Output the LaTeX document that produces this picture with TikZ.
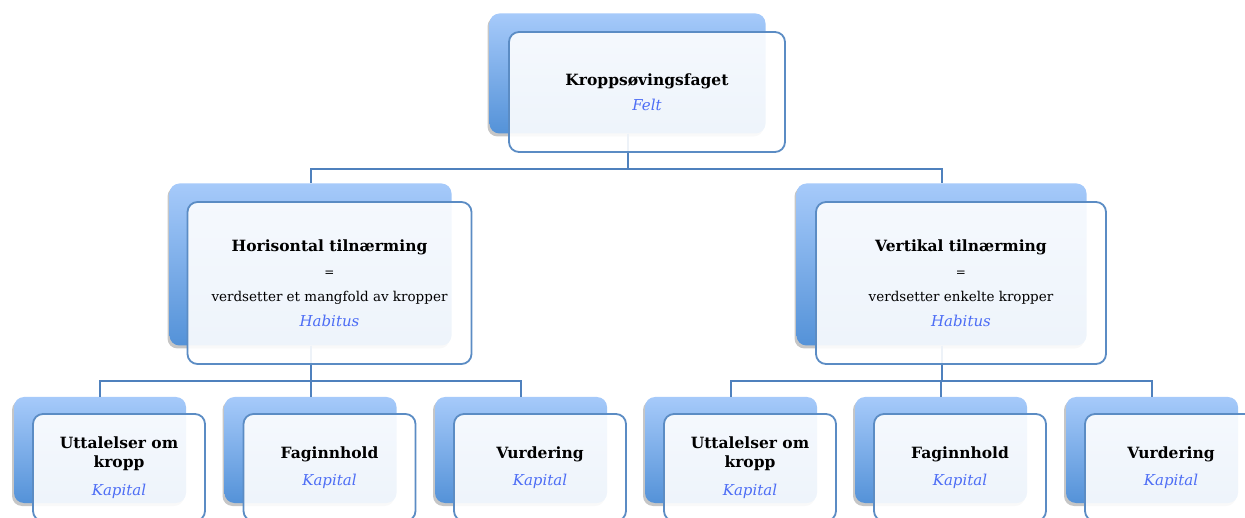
\documentclass[tikz,border=0pt]{standalone}
\usepackage{fontspec}
\setmainfont{DejaVu Serif}
\usetikzlibrary{shadows, positioning}
\definecolor{bluetop}{HTML}{A6CAFA}
\definecolor{bluebot}{HTML}{5492D8}
\definecolor{edge}{HTML}{5B8CC4}
\definecolor{link}{HTML}{4F81BD}
\definecolor{capblue}{HTML}{4D6DF5}
\newcommand{\ttlfont}{\fontsize{15.5}{25}\selectfont\bfseries}
\newcommand{\capt}[1]{{\fontsize{15}{25}\selectfont\itshape\color{capblue}#1}}

\begin{document}
\begin{tikzpicture}[x=1pt, y=-1pt,
        bak/.style={rectangle, rounded corners=10pt, draw=none,
                    top color=bluetop, bottom color=bluebot,
                    drop shadow={shadow xshift=-2pt, shadow yshift=-3pt, opacity=0.45}},
        frt/.style={rectangle, rounded corners=10pt, draw=edge, line width=1.8pt,
                    fill=white, fill opacity=0.9, text opacity=1,
                    align=center, font=\fontsize{15}{25}\selectfont},
        topsize/.style={minimum width=276pt, minimum height=120pt},
        midsize/.style={minimum height=162pt},
        botsize/.style={minimum width=172pt, minimum height=107pt},
        link/.style={draw=link, line width=2pt},
      ]
        \useasboundingbox (0,0) rectangle (1245,518);

        % back boxes
        \node[bak, topsize] (feltbak) at (627.5,73.5) {};
        \node[bak, midsize, minimum width=282pt] (horbak)  at (310.5,264.5) {};
        \node[bak, midsize, minimum width=290pt] (vertbak) at (941.5,264.5) {};
        \foreach \cx/\nm in {100/ua, 310.5/fa, 521/va, 731/ub, 941/fb, 1152/vb}
          \node[bak, botsize, minimum height=106pt] (\nm bak) at (\cx,450) {};

        % connectors
        \draw[link] (feltbak.south) -- ++(0,35) -| (horbak.north);
        \draw[link] (feltbak.south) -- ++(0,35) -| (vertbak.north);
        \foreach \nm in {ua, fa, va}
          \draw[link] (horbak.south) -- ++(0,35) -| (\nm bak.north);
        \foreach \nm in {ub, fb, vb}
          \draw[link] (vertbak.south) -- ++(0,35) -| (\nm bak.north);

        % front boxes
        \node[frt, topsize] (felt) at (647,92)
          {{\ttlfont Kroppsøvingsfaget}\\ \capt{Felt}};
        \node[frt, midsize, minimum width=284pt] (hor) at (329.5,283)
          {{\ttlfont Horisontal tilnærming}\\ {\fontsize{12}{25}\selectfont =}\\
           {\fontsize{13.5}{25}\selectfont verdsetter et mangfold av kropper}\\ \capt{Habitus}};
        \node[frt, midsize, minimum width=290pt] (vert) at (961,283)
          {{\ttlfont Vertikal tilnærming}\\ {\fontsize{12}{25}\selectfont =}\\
           {\fontsize{13.5}{25}\selectfont verdsetter enkelte kropper}\\ \capt{Habitus}};
        \foreach \cx/\nm in {119/ua, 750/ub}
          \node[frt, botsize] (\nm) at (\cx,467.5)
            {{\ttlfont Uttalelser om}\\[-6pt] {\ttlfont kropp}\\[3pt] \capt{Kapital}};
        \foreach \cx/\nm/\ttl in {329.5/fa/Faginnhold, 540/va/Vurdering,
                                  960/fb/Faginnhold, 1171/vb/Vurdering}
          \node[frt, botsize] (\nm) at (\cx,467.5)
            {{\ttlfont \ttl}\\[2pt] \capt{Kapital}};
      \end{tikzpicture}
\end{document}
